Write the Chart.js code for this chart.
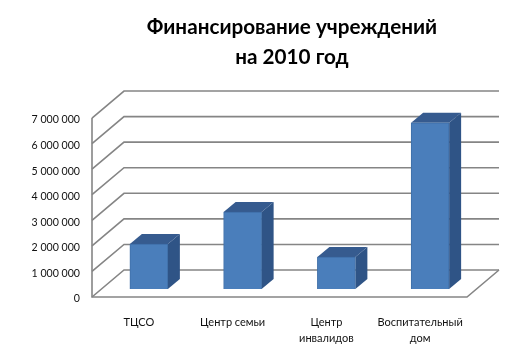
<!DOCTYPE html>
<html>
<head>
<meta charset="utf-8">
<script src="https://cdn.jsdelivr.net/npm/chart.js@4"></script>
<style>
body { margin: 0; background: #fff; }
canvas { display: block; }
</style>
</head>
<body>
<canvas id="grafica" width="527" height="363"></canvas>
<script>
const categorias = [['ТЦСО'], ['Центр семьи'], ['Центр', 'инвалидов'], ['Воспитательный', 'дом']];
const valores = [1760000, 3010000, 1250000, 6500000];
const etiquetasY = ['0', '1 000 000', '2 000 000', '3 000 000', '4 000 000', '5 000 000', '6 000 000', '7 000 000'];
const titulo = ['Финансирование учреждений', 'на 2010 год'];

const FUENTE = 'Lato, "Open Sans", "Noto Sans", sans-serif';

// pared del fondo y suelo en falso 3D
const paredes = {
    id: 'paredes',
    beforeDraw(chart) {
        // el título va centrado sobre el gráfico, no sobre el lienzo
        chart.titleBlock.left = 28.5;
        chart.titleBlock.right = chart.width + 28.5;
    },
    beforeDatasetsDraw(chart) {
        const { ctx, chartArea: a, scales: { y } } = chart;
        const dx = 32, dy = 27;
        ctx.save();
        ctx.strokeStyle = '#858585';
        ctx.lineWidth = 1.6;
        etiquetasY.forEach((_, i) => {
            const py = y.getPixelForValue(i * 1000000);
            ctx.beginPath();
            ctx.moveTo(a.left, py);
            ctx.lineTo(a.left + dx, py - dy);
            ctx.lineTo(a.right + dx, py - dy);
            ctx.stroke();
        });
        ctx.beginPath();
        ctx.moveTo(a.left, y.getPixelForValue(7000000));
        ctx.lineTo(a.left, a.bottom);
        ctx.lineTo(a.right, a.bottom);
        ctx.lineTo(a.right + dx, a.bottom - dy);
        ctx.stroke();
        ctx.restore();
    }
};

// caras lateral y superior de cada barra
const barras3d = {
    id: 'barras3d',
    beforeDatasetDraw(chart) {
        const ctx = chart.ctx;
        const dx = 12, dy = 10;
        ctx.save();
        ctx.translate(10, -8);
        chart.getDatasetMeta(0).data.forEach(bar => {
            const l = bar.x - bar.width / 2, r = bar.x + bar.width / 2;
            ctx.fillStyle = '#2f5486';
            ctx.beginPath();
            ctx.moveTo(r, bar.y);
            ctx.lineTo(r + dx, bar.y - dy);
            ctx.lineTo(r + dx, bar.base - dy);
            ctx.lineTo(r, bar.base);
            ctx.closePath();
            ctx.fill();
            ctx.fillStyle = '#365b8f';
            ctx.beginPath();
            ctx.moveTo(l, bar.y);
            ctx.lineTo(l + dx, bar.y - dy);
            ctx.lineTo(r + dx, bar.y - dy);
            ctx.lineTo(r, bar.y);
            ctx.closePath();
            ctx.fill();
        });
    },
    afterDatasetDraw(chart) {
        chart.ctx.restore();
    }
};

new Chart(document.getElementById('grafica').getContext('2d'), {
    type: 'bar',
    data: {
        labels: categorias,
        datasets: [{
            data: valores,
            backgroundColor: '#4a7ebb',
            borderColor: '#3f6fa8',
            borderWidth: 1,
            barThickness: 38,
            clip: false
        }]
    },
    plugins: [paredes, barras3d],
    options: {
        responsive: false,
        animation: false,
        layout: { padding: { right: 60 } },
        plugins: {
            legend: { display: false },
            tooltip: { enabled: false },
            title: {
                display: true,
                text: titulo,
                color: '#000',
                font: { family: FUENTE, size: 20.7, weight: 'bold', lineHeight: 1.45 },
                padding: { top: 12, bottom: 46 }
            }
        },
        scales: {
            x: {
                grid: { display: false },
                border: { display: false },
                afterFit(scale) { scale.height = 66; },
                ticks: {
                    color: '#111',
                    font: { family: FUENTE, size: 11, lineHeight: 1.5 },
                    padding: 9,
                    maxRotation: 0,
                    autoSkip: false
                }
            },
            y: {
                min: 0,
                max: 7000000,
                grid: { display: false },
                border: { display: false },
                afterFit(scale) { scale.width = 92; },
                ticks: {
                    stepSize: 1000000,
                    color: '#111',
                    font: { family: FUENTE, size: 10.6 },
                    padding: 4,
                    labelOffset: 2,
                    callback: (v, i) => etiquetasY[i]
                }
            }
        }
    }
});
</script>
</body>
</html>
